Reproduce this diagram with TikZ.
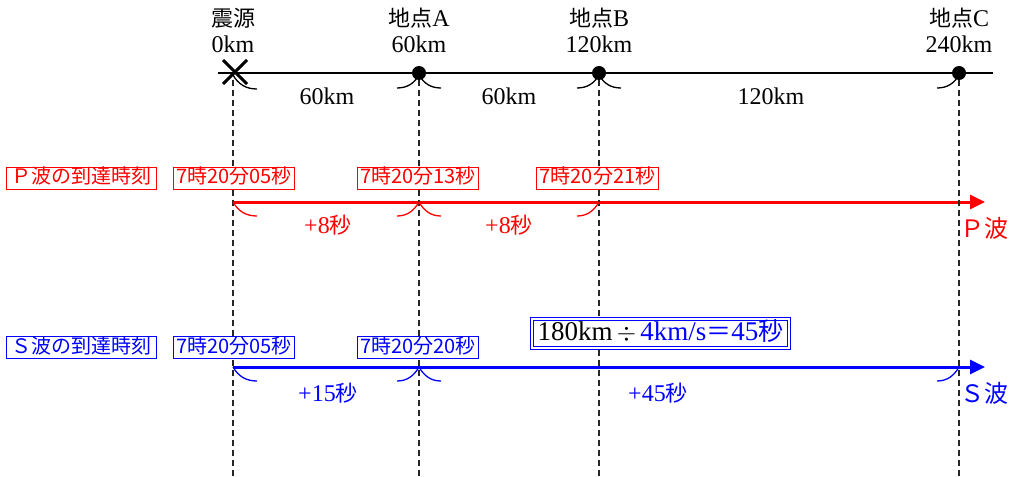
\documentclass[tikz,border=0pt]{standalone}
\usepackage{fontspec}
\setmainfont{Liberation Serif}
\newfontfamily\cjk{Noto Sans CJK JP}
\usetikzlibrary{arrows.meta,calc}
\definecolor{pred}{RGB}{255,0,0}
\definecolor{sblue}{RGB}{0,0,255}
\begin{document}
\begin{tikzpicture}[x=1pt,y=1pt,
  toplbl/.style={font=\fontsize{24}{26}\selectfont, align=center, inner sep=0pt, anchor=south},
  timebox/.style={draw, fill=white, line width=0.8pt, font=\cjk\fontsize{20}{20}\selectfont,
     inner xsep=3pt, inner ysep=1.5pt, text height=15pt, text depth=4pt},
  dlbl/.style={font=\fontsize{24}{24}\selectfont, inner sep=0pt},
  wavelbl/.style={font=\cjk\fontsize{24}{24}\selectfont, inner sep=0pt, anchor=west},
  guide/.style={dash pattern=on 6pt off 4pt, line width=1.3pt, black!85},
  bracearc/.style={line width=1.3pt},
  wave/.style={line width=3pt, -{Triangle[length=15pt,width=14pt]}},
  dot/.style={circle, fill=black, inner sep=0pt, minimum size=14pt}
]
\useasboundingbox (0,0) rectangle (1024,-476);

% guide coordinates
\foreach \n/\x in {O/233,A/419,B/599,C/959}{
  \coordinate (g\n t) at (\x,-80);
  \coordinate (g\n b) at (\x,-476);
}

% P and S arrows
\coordinate (ps) at (233,-202);
\coordinate (pe) at (985,-202);
\coordinate (ss) at (233,-367);
\coordinate (se) at (985,-367);
\draw[wave, pred] (ps) -- (pe);
\draw[wave, sblue] (ss) -- (se);

% dashed guide lines
\foreach \n in {O,A,B,C}{ \draw[guide] (g\n t) -- (g\n b); }

% top axis
\coordinate (axL) at (218,-73);
\coordinate (axR) at (993,-73);
\draw[line width=1.3pt] (axL) -- (axR);
\node[dot] (dA) at (419,-73) {};
\node[dot] (dB) at (599,-73) {};
\node[dot] (dC) at (959,-73) {};
\coordinate (xO) at (235,-72);
\draw[line width=3pt] ($(xO)+(-12,12)$) -- ($(xO)+(12,-12)$);
\draw[line width=3pt] ($(xO)+(-12,-12)$) -- ($(xO)+(12,12)$);

% top labels
\node[toplbl] (lO) at (233,-53) {{\cjk\fontsize{22}{26}\selectfont 震源}\\0km};
\node[toplbl] (lA) at (419,-53) {{\cjk\fontsize{22}{26}\selectfont 地点}A\\60km};
\node[toplbl] (lB) at (599,-53) {{\cjk\fontsize{22}{26}\selectfont 地点}B\\120km};
\node[toplbl] (lC) at (959,-53) {{\cjk\fontsize{22}{26}\selectfont 地点}C\\240km};

% top brace ends
\coordinate (tO) at (233,-75);
\coordinate (tA) at (419,-75);
\coordinate (tB) at (599,-75);
\coordinate (tC) at (959,-75);
\draw[bracearc] (tO) to[out=-60,in=180] ++(24,-14);
\draw[bracearc] (tA) to[out=-120,in=0] ++(-22,-13);
\draw[bracearc] (tA) to[out=-60,in=180] ++(22,-13);
\draw[bracearc] (tB) to[out=-120,in=0] ++(-22,-13);
\draw[bracearc] (tB) to[out=-60,in=180] ++(22,-13);
\draw[bracearc] (tC) to[out=-120,in=0] ++(-22,-13);
\node[dlbl] (k1) at (327,-96) {60km};
\node[dlbl] (k2) at (509,-96) {60km};
\node[dlbl] (k3) at (771,-96) {120km};

% P row
\node[timebox, draw=pred, text=pred, inner xsep=5pt] (pt) at (81.5,-178) {Ｐ波の到達時刻};
\node[timebox, draw=pred, text=pred] (p0) at (234,-178) {7時20分05秒};
\node[timebox, draw=pred, text=pred] (pA) at (418,-178) {7時20分13秒};
\node[timebox, draw=pred, text=pred] (pB) at (597.5,-178) {7時20分21秒};
\coordinate (rO) at (233,-202);
\coordinate (rA) at (419,-202);
\coordinate (rB) at (599,-202);
\draw[bracearc, pred] (rO) to[out=-60,in=180] ++(24,-14);
\draw[bracearc, pred] (rA) to[out=-120,in=0] ++(-22,-14);
\draw[bracearc, pred] (rA) to[out=-60,in=180] ++(22,-14);
\draw[bracearc, pred] (rB) to[out=-120,in=0] ++(-22,-14);
\node[dlbl, text=pred] (p8a) at (328,-225) {+8{\cjk\fontsize{22}{22}\selectfont 秒}};
\node[dlbl, text=pred] (p8b) at (509,-225) {+8{\cjk\fontsize{22}{22}\selectfont 秒}};
\node[wavelbl, text=pred] (pw) at (960,-228) {Ｐ波};

% S row
\node[timebox, draw=sblue, text=sblue, inner xsep=5pt] (st) at (81.5,-347.5) {Ｓ波の到達時刻};
\node[timebox, draw=sblue, text=sblue] (s0) at (234,-347.5) {7時20分05秒};
\node[timebox, draw=sblue, text=sblue] (sA) at (418,-347.5) {7時20分20秒};
\node[draw=sblue, line width=0.8pt, fill=white,
      font=\fontsize{27}{27}\selectfont, inner xsep=4pt, inner ysep=1pt,
      text height=19pt, text depth=5pt] (fm) at (660.5,-333.5)
  {180km$\,\div\,$\textcolor{sblue}{4km/s{\cjk\fontsize{25}{25}\selectfont ＝}45{\cjk\fontsize{25}{25}\selectfont 秒}}};
\draw[sblue, line width=0.8pt] ($(fm.south west)+(-2.5,-2.5)$) rectangle ($(fm.north east)+(2.5,2.5)$);
\coordinate (bO) at (233,-367);
\coordinate (bA) at (419,-367);
\coordinate (bC) at (959,-367);
\draw[bracearc, sblue] (bO) to[out=-60,in=180] ++(24,-14);
\draw[bracearc, sblue] (bA) to[out=-120,in=0] ++(-22,-14);
\draw[bracearc, sblue] (bA) to[out=-60,in=180] ++(22,-14);
\draw[bracearc, sblue] (bC) to[out=-120,in=0] ++(-22,-14);
\node[dlbl, text=sblue] (s15) at (328,-393) {+15{\cjk\fontsize{22}{22}\selectfont 秒}};
\node[dlbl, text=sblue] (s45) at (658,-393) {+45{\cjk\fontsize{22}{22}\selectfont 秒}};
\node[wavelbl, text=sblue] (sw) at (960,-393) {Ｓ波};
\end{tikzpicture}
\end{document}
